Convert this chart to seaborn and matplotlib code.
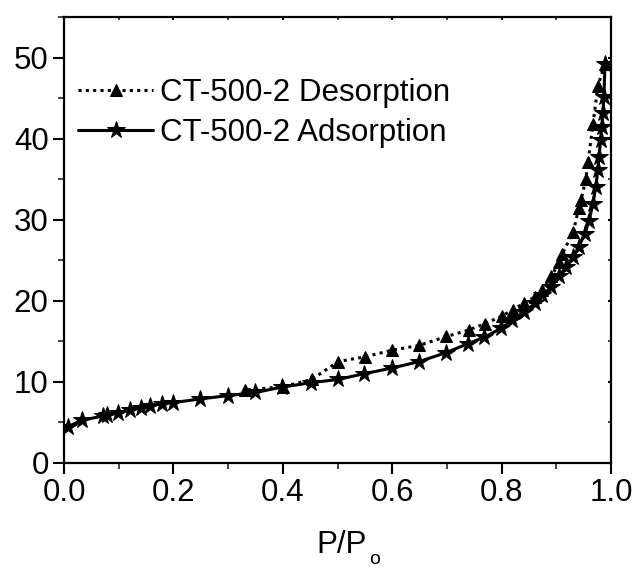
import matplotlib
matplotlib.use("Agg")
import matplotlib.pyplot as plt
import seaborn as sns
import pandas as pd
from matplotlib.ticker import MultipleLocator

ads_p = [0.008, 0.032, 0.071, 0.079, 0.098, 0.120, 0.140, 0.158, 0.180, 0.200,
         0.249, 0.299, 0.350, 0.398, 0.451, 0.501, 0.548, 0.599, 0.649, 0.698,
         0.738, 0.768, 0.799, 0.819, 0.841, 0.861, 0.874, 0.891, 0.905, 0.918,
         0.931, 0.941, 0.952, 0.960, 0.967, 0.972, 0.976, 0.978, 0.981, 0.983,
         0.985, 0.987, 0.989]
ads_v = [4.5, 5.25, 5.8, 5.9, 6.15, 6.5, 6.75, 7.05, 7.3, 7.45,
         7.9, 8.3, 8.7, 9.35, 9.9, 10.3, 11.0, 11.7, 12.5, 13.6,
         14.7, 15.5, 16.6, 17.6, 18.6, 19.7, 20.7, 21.7, 23.0, 24.2,
         25.4, 26.6, 28.3, 29.9, 32.0, 34.0, 36.1, 37.7, 39.8, 41.4,
         43.2, 45.1, 49.2]

des_p = [0.989, 0.976, 0.967, 0.958, 0.954, 0.945, 0.941, 0.931, 0.911, 0.905,
         0.891, 0.874, 0.861, 0.841, 0.820, 0.800, 0.770, 0.740, 0.699, 0.649,
         0.599, 0.550, 0.501, 0.453, 0.400, 0.331]
des_v = [49.2, 46.5, 41.8, 37.1, 35.0, 32.4, 31.4, 28.5, 25.8, 24.8,
         23.0, 21.3, 20.5, 19.7, 18.9, 18.1, 17.2, 16.4, 15.6, 14.5,
         13.9, 13.1, 12.5, 10.3, 9.4, 9.0]

x_ticks = [0.0, 0.2, 0.4, 0.6, 0.8, 1.0]
y_ticks = [0, 10, 20, 30, 40, 50]

sns.set_theme(style="ticks")
plt.rcParams['font.family'] = ['Liberation Sans', 'DejaVu Sans']
plt.rcParams['text.color'] = 'black'

FS = 22.5

fig = plt.figure(figsize=(6.37, 5.69), dpi=100)
ax = fig.add_axes([0.1005, 0.1863, 0.9592 - 0.1005, 0.9701 - 0.1863])

des_df = pd.DataFrame({"p": des_p, "v": des_v})
ads_df = pd.DataFrame({"p": ads_p, "v": ads_v})

sns.lineplot(data=des_df, x="p", y="v", ax=ax, color="black", sort=False,
             linestyle=(0, (1.0, 1.4)), linewidth=2.2, marker="^",
             markersize=9, markeredgecolor="black", markerfacecolor="black",
             label="CT-500-2 Desorption")
sns.lineplot(data=ads_df, x="p", y="v", ax=ax, color="black", sort=False,
             linestyle="-", linewidth=2.2, marker="*",
             markersize=13, markeredgecolor="black", markerfacecolor="black",
             label="CT-500-2 Adsorption")

ax.set_xlim(0, 1.0)
ax.set_ylim(0, 55)
ax.set_xticks(x_ticks)
ax.set_xticklabels([f"{t:.1f}" for t in x_ticks])
ax.set_yticks(y_ticks)
ax.xaxis.set_minor_locator(MultipleLocator(0.1))
ax.yaxis.set_minor_locator(MultipleLocator(5))
ax.tick_params(which="major", direction="out", length=8, width=1.5,
               labelsize=FS, colors="black", pad=3)
ax.tick_params(which="minor", direction="out", length=4, width=1.2)
ax.tick_params(which="both", top=True, right=True)
sec_len = 2
for t in ax.xaxis.get_major_ticks() + ax.xaxis.get_minor_ticks():
    t.tick2line.set_markersize(sec_len)
    t.tick2line.set_marker(3)
for t in ax.yaxis.get_major_ticks() + ax.yaxis.get_minor_ticks():
    t.tick2line.set_markersize(sec_len)
    t.tick2line.set_marker(0)

for s in ax.spines.values():
    s.set_linewidth(1.6)
    s.set_color("black")
    s.set_visible(True)

ax.set_xlabel("P/P", fontsize=FS, color="black")
ax.xaxis.set_label_coords((341.5 - 64) / 547, -0.15)
fig.text(369 / 637, 0.5 / 569, "o", fontsize=14, color="black",
         ha="left", va="bottom")
ax.set_ylabel("")

leg = ax.legend(loc="upper left", frameon=False, fontsize=FS,
                handlelength=2.4, handletextpad=0.2, labelspacing=0.3,
                bbox_to_anchor=(-0.008, 0.905), borderaxespad=0.2)
for txt in leg.get_texts():
    txt.set_color("black")

fig.savefig("out.png", dpi=100)
